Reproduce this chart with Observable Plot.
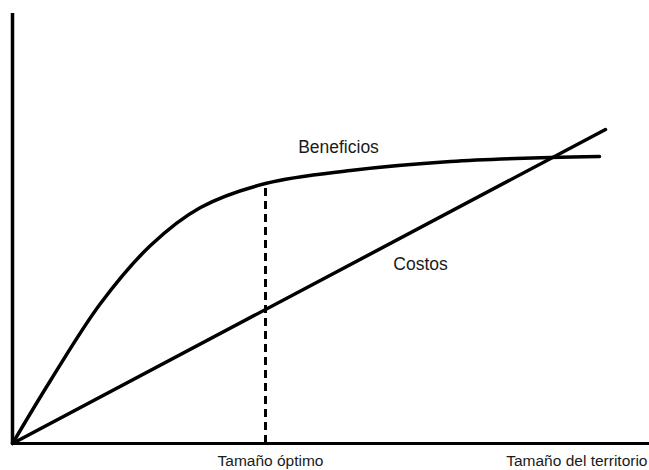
<!DOCTYPE html>
<html>
<head>
<meta charset="utf-8">
<script src="https://cdn.jsdelivr.net/npm/d3@7"></script>
<script src="https://cdn.jsdelivr.net/npm/@observablehq/plot@0.6"></script>
<style>
  html, body { margin: 0; padding: 0; background: #fff; }
  #chart svg { display: block; }
</style>
</head>
<body>
<div id="chart"></div>
<script>
// Beneficios curve (x: tamaño del territorio, y: valor)
const beneficiosX = [0, 3.8, 8.8, 13.8, 18.8, 25.3, 33.8, 43.8, 53.8, 58.7];
const beneficiosY = [0, 6.3, 14.0, 19.8, 23.6, 26.0, 27.3, 28.2, 28.6, 28.7];
// Costos straight line
const costosX = [0, 59.3];
const costosY = [0, 31.4];
// Optimum size
const optimoX = 25.3;
const optimoY = 26.0;
// Axis extents
const axisXMax = 63.7;
const axisYMax = 43;
// Labels
const labelText = ["Beneficios", "Costos"];
const labelX = [32.6, 40.8];
const labelY = [29.6, 17.95];
const xLabels = ["Tamaño óptimo", "Tamaño del territorio"];

const beneficios = beneficiosX.map((x, i) => ({x, y: beneficiosY[i]}));
const costos = costosX.map((x, i) => ({x, y: costosY[i]}));
const labels = labelText.map((t, i) => ({t, x: labelX[i], y: labelY[i]}));

const font = "'Liberation Sans', Arial, sans-serif";

const chart = Plot.plot({
  width: 649,
  height: 470,
  marginLeft: 12,
  marginRight: 0,
  marginTop: 0,
  marginBottom: 27,
  x: {domain: [0, axisXMax], axis: null},
  y: {domain: [0, 44.3], axis: null},
  style: {fontFamily: font, background: "#fff", color: "#000"},
  marks: [
    Plot.ruleY([0], {x1: 0, x2: axisXMax, stroke: "#000", strokeWidth: 3}),
    Plot.ruleX([0], {y1: 0, y2: axisYMax, stroke: "#000", strokeWidth: 3.5}),
    Plot.ruleX([optimoX], {y1: 0, y2: optimoY, stroke: "#000", strokeWidth: 3, strokeDasharray: "8,5"}),
    Plot.line(costos, {x: "x", y: "y", stroke: "#000", strokeWidth: 3.5}),
    Plot.line(beneficios, {x: "x", y: "y", stroke: "#000", strokeWidth: 3.5, curve: "catmull-rom"}),
    Plot.text(labels, {x: "x", y: "y", text: "t", fontSize: 17.5, fill: "#1a1a1a", textAnchor: "middle"}),
    Plot.text([xLabels[0]], {x: optimoX, y: 0, text: d => d, fontSize: 15.5, fill: "#1a1a1a", textAnchor: "middle", dx: 5, dy: 18}),
    Plot.text([xLabels[1]], {x: axisXMax, y: 0, text: d => d, fontSize: 15.5, fill: "#1a1a1a", textAnchor: "end", dx: -2, dy: 18})
  ]
});
document.getElementById("chart").appendChild(chart);
</script>
</body>
</html>
